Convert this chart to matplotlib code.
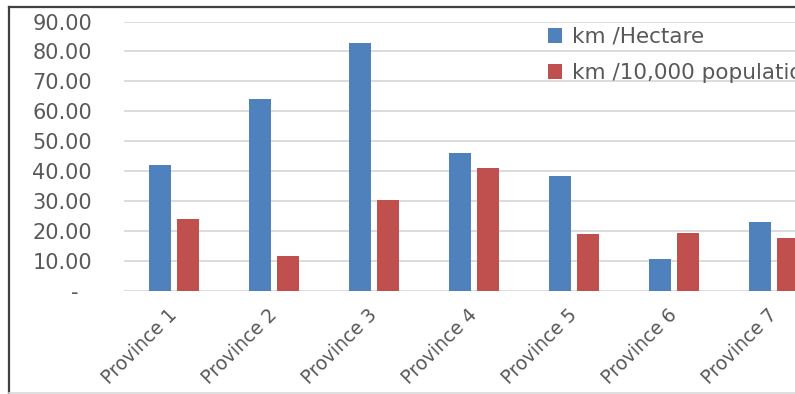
import numpy as np
import matplotlib.pyplot as plt
from matplotlib.lines import Line2D
from matplotlib.ticker import FuncFormatter

provinces = ["Province 1", "Province 2", "Province 3", "Province 4",
             "Province 5", "Province 6", "Province 7"]
km_per_hectare = [42.1, 64.0, 82.9, 46.1, 38.4, 10.7, 22.9]
km_per_10k_pop = [24.1, 11.6, 30.3, 41.2, 19.0, 19.3, 17.6]
series_names = ["km /Hectare", "km /10,000 population"]

blue = "#4F81BD"
red = "#C0504D"
text_gray = "#595959"
grid_gray = "#D9D9D9"

W, H = 795, 394
fig = plt.figure(figsize=(W / 100, H / 100), dpi=100)
# plot area runs past the right edge, like the cropped original
ax = fig.add_axes([124 / W, 103 / H, 700 / W, 269.5 / H])

x = np.arange(len(provinces))
bw = 0.22
ax.bar(x - 0.14, km_per_hectare, bw, color=blue, label=series_names[0], zorder=3)
ax.bar(x + 0.14, km_per_10k_pop, bw, color=red, label=series_names[1], zorder=3)

ax.set_xlim(-0.5, len(provinces) - 0.5)
ax.set_ylim(0, 90)
ax.set_yticks(np.arange(0, 91, 10))


def fmt(v, pos):
    if abs(v) < 1e-9:
        return "-  "
    return f"{v:.2f}"


ax.yaxis.set_major_formatter(FuncFormatter(fmt))
ax.yaxis.grid(True, color=grid_gray, linewidth=1.3, zorder=0)
ax.set_axisbelow(True)
for s in ax.spines.values():
    s.set_visible(False)
ax.tick_params(axis="both", length=0, labelcolor=text_gray)
ax.tick_params(axis="y", pad=23, labelsize=15)
ax.tick_params(axis="x", pad=15, labelsize=13.5)

ax.set_xticks(x)
ax.set_xticklabels(provinces, rotation=45, ha="right", va="center",
                   rotation_mode="anchor")

leg = ax.legend(loc="upper left", bbox_to_anchor=(548 / W, 1 - 27 / H),
                bbox_transform=fig.transFigure, frameon=False, fontsize=15.5,
                handlelength=0.65, handleheight=0.65, handletextpad=0.45,
                labelspacing=0.75, borderpad=0, borderaxespad=0)
for t in leg.get_texts():
    t.set_color(text_gray)

# chart border (top and left dark, bottom light)
fig.add_artist(Line2D([8.5 / W, 8.5 / W], [0, 1 - 7 / H], color="#404040",
                      linewidth=1.6, transform=fig.transFigure))
fig.add_artist(Line2D([8.5 / W, 1], [1 - 7 / H, 1 - 7 / H], color="#404040",
                      linewidth=1.6, transform=fig.transFigure))
fig.add_artist(Line2D([8.5 / W, 1], [1.5 / H, 1.5 / H], color=grid_gray,
                      linewidth=1.2, transform=fig.transFigure))

fig.savefig("out.png", dpi=100)
